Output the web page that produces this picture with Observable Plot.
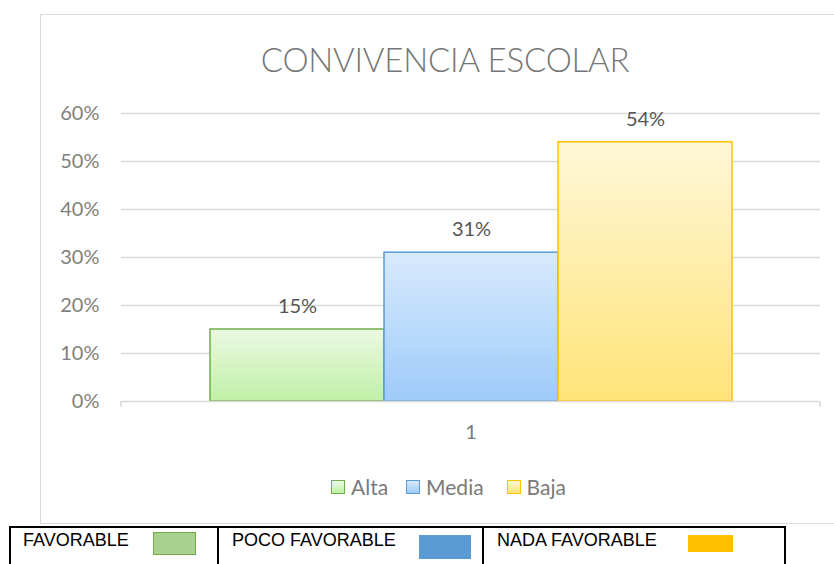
<!DOCTYPE html>
<html>
<head>
<meta charset="utf-8">
<script src="https://cdn.jsdelivr.net/npm/d3@7"></script>
<script src="https://cdn.jsdelivr.net/npm/@observablehq/plot@0.6"></script>
<style>
  html, body { margin: 0; padding: 0; background: #fff; overflow: hidden; }
  #wrap { position: relative; width: 834px; height: 564px; overflow: hidden; font-family: Lato, "Open Sans", sans-serif; }
  #frame { position: absolute; left: 40px; top: 14px; width: 830px; height: 510px; border: 1.5px solid #d9d9d9; box-sizing: border-box; }
  #title { position: absolute; left: 40px; width: 810px; top: 39px; text-align: center; font-size: 33px; font-weight: 300; color: #767676; letter-spacing: -0.2px; }
  #chart { position: absolute; left: 0; top: 0; }
  #legend { position: absolute; top: 474px; left: 331px; display: flex; align-items: center; font-size: 21px; color: #7a7a7a; }
  #legend .item { display: flex; align-items: center; }
  #legend .sw { width: 12px; height: 12px; border: 1.5px solid; margin-right: 6px; }
  #tbl { position: absolute; left: 9px; top: 526px; width: 777px; table-layout: fixed; border-collapse: collapse; font-family: "Liberation Sans", Arial, sans-serif; font-size: 18px; color: #000; }
  #tbl td { border: 2px solid #000; height: 50px; vertical-align: top; padding: 0; position: relative; overflow: visible; }
  #tbl .lab { position: absolute; top: 2px; white-space: nowrap; }
  #tbl .sw { position: absolute; }
</style>
</head>
<body>
<div id="wrap">
  <div id="frame"></div>
  <div id="chart"></div>
  <div id="title"></div>
  <div id="legend"></div>
  <table id="tbl"><colgroup></colgroup><tr></tr></table>
</div>
<script>
// ---- data ----
const title = "CONVIVENCIA ESCOLAR";
const categories = ["1"];
const series = ["Alta", "Media", "Baja"];
const values = [0.15, 0.31, 0.54];
const yTicks = [0, 0.1, 0.2, 0.3, 0.4, 0.5, 0.6];
const tableLabels = ["FAVORABLE", "POCO FAVORABLE", "NADA FAVORABLE"];

// ---- styles ----
const gradTop = ["#ebf9e3", "#d8eafc", "#fff7d8"];
const gradBottom = ["#c0f0a6", "#9ecbfa", "#ffe478"];
const strokes = ["#70ad47", "#5b9bd5", "#ffc000"];
const tableFill = ["#a9d18e", "#5b9bd5", "#ffc000"];
const tableStroke = ["#70ad47", "#5b9bd5", "#ffc000"];
const legendGap = [18, 23, 0];

const data = series.map((s, i) => ({serie: s, value: values[i], cat: categories[0]}));
const pct = d3.format(".0%");

document.getElementById("title").textContent = title;

function defs() {
  const d = d3.create("svg:defs");
  series.forEach((s, i) => {
    const g = d.append("linearGradient").attr("id", "g" + i).attr("x1", 0).attr("y1", 0).attr("x2", 0).attr("y2", 1);
    g.append("stop").attr("offset", "0%").attr("stop-color", gradTop[i]);
    g.append("stop").attr("offset", "100%").attr("stop-color", gradBottom[i]);
  });
  return d.node();
}

function endTicks(index, scales, values, dims) {
  const g = d3.create("svg:g").attr("stroke", "#d9d9d9").attr("stroke-width", 1.5);
  const yb = dims.height - dims.marginBottom;
  [dims.marginLeft, dims.width - dims.marginRight].forEach(x => {
    g.append("line").attr("x1", x).attr("x2", x).attr("y1", yb).attr("y2", yb + 6);
  });
  return g.node();
}

const chart = Plot.plot({
  width: 834,
  height: 460,
  marginLeft: 121,
  marginRight: 14,
  marginTop: 113,
  marginBottom: 59,
  style: {background: "transparent", fontFamily: "Lato, 'Open Sans', sans-serif", fontSize: "20px", color: "#808080", overflow: "visible"},
  x: {domain: series, paddingInner: 0, paddingOuter: 0.5, axis: null},
  y: {domain: [0, 0.6], axis: null},
  marks: [
    defs,
    Plot.gridY(yTicks.slice(1), {stroke: "#d9d9d9", strokeOpacity: 1, strokeWidth: 1.5}),
    Plot.axisY(yTicks, {tickFormat: pct, tickSize: 0, tickPadding: 22, fill: "#808080", fontSize: 20, label: null}),
    ...series.map((s, i) => Plot.barY(data.filter(d => d.serie === s), {
      x: "serie", y: "value", fill: `url(#g${i})`, stroke: strokes[i], strokeWidth: 1.5
    })),
    Plot.ruleY([0], {stroke: "#d9d9d9", strokeWidth: 1.5}),
    endTicks,
    Plot.text(data, {x: "serie", y: "value", text: d => pct(d.value), dy: -23, fill: "#555555", fontSize: 20}),
    Plot.text(categories, {text: d => d, frameAnchor: "bottom", dy: 37, fill: "#7a7a7a", fontSize: 20})
  ]
});
document.getElementById("chart").appendChild(chart);

// legend
const leg = d3.select("#legend");
series.forEach((s, i) => {
  const it = leg.append("div").attr("class", "item").style("margin-right", legendGap[i] + "px");
  it.append("div").attr("class", "sw")
    .style("border-color", strokes[i])
    .style("background", `linear-gradient(${gradTop[i]}, ${gradBottom[i]})`);
  it.append("span").text(s);
});

// bottom table
const cellW = [208, 265, 302];
const swPos = [
  {l: 142, t: 4, w: 43, h: 23},
  {l: 200, t: 7, w: 52, h: 24},
  {l: 204, t: 7, w: 45, h: 17}
];
const cg = d3.select("#tbl colgroup");
cellW.forEach(w => cg.append("col").style("width", w + "px"));
const tr = d3.select("#tbl tr");
tableLabels.forEach((lab, i) => {
  const td = tr.append("td");
  td.append("span").attr("class", "lab").style("left", (i === 0 ? 12 : 13) + "px").text(lab);
  td.append("div").attr("class", "sw")
    .style("left", swPos[i].l + "px").style("top", swPos[i].t + "px")
    .style("width", swPos[i].w + "px").style("height", swPos[i].h + "px")
    .style("background", tableFill[i])
    .style("border", i === 0 ? `1.5px solid ${tableStroke[i]}` : "none")
    .style("box-sizing", "border-box");
});
</script>
</body>
</html>
